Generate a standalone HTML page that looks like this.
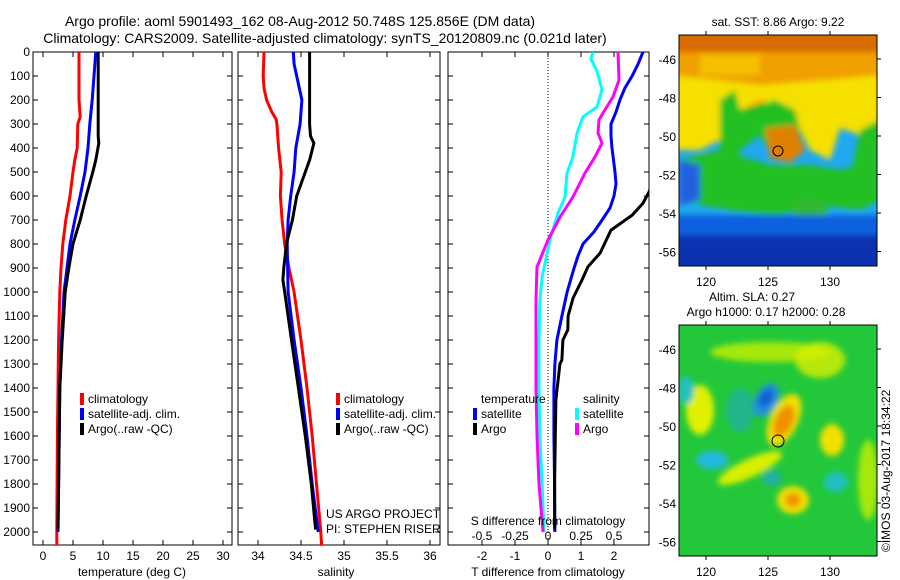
<!DOCTYPE html>
<html><head><meta charset="utf-8">
<style>
html,body{margin:0;padding:0;background:#fff;}
svg{display:block;font-family:"Liberation Sans",sans-serif;}
</style></head>
<body>
<svg id="fig" width="900" height="580" viewBox="0 0 900 580">
<defs>
<clipPath id="c1"><rect x="33" y="52" width="199" height="493"/></clipPath>
<clipPath id="c2"><rect x="238" y="52" width="202" height="493"/></clipPath>
<clipPath id="c3"><rect x="448" y="52" width="201" height="493"/></clipPath>
<clipPath id="m1"><rect x="679" y="35" width="198" height="231"/></clipPath>
<clipPath id="m2"><rect x="679" y="325" width="198" height="231"/></clipPath>
<filter id="bl" x="-50%" y="-50%" width="200%" height="200%"><feGaussianBlur stdDeviation="3"/></filter>
<filter id="bl2" x="-50%" y="-50%" width="200%" height="200%"><feGaussianBlur stdDeviation="3"/></filter>
</defs>
<text x="300" y="26" font-size="14" text-anchor="middle">Argo profile: aoml 5901493_162 08-Aug-2012 50.748S 125.856E (DM data)</text>
<text x="325" y="43" font-size="14" text-anchor="middle">Climatology: CARS2009. Satellite-adjusted climatology: synTS_20120809.nc (0.021d later)</text>

<g id="p1"></g>
<g id="p2"></g>
<g id="p3"></g>

<!-- SST map -->
<g>
<text x="778" y="26" font-size="12" text-anchor="middle">sat. SST: 8.86  Argo: 9.22</text>
<g clip-path="url(#m1)">
<rect x="679" y="35" width="198" height="231" fill="#20a8f0"/>
<rect x="679" y="35" width="198" height="80" fill="#f0a000"/>
<g filter="url(#bl)">
<rect x="670" y="30" width="220" height="22" fill="#d86a00"/>
<rect x="700" y="55" width="60" height="20" fill="#f5c000"/>
<path d="M670,75 L720,80 L760,85 L880,75 L880,120 L860,135 L840,128 L830,160 L810,150 L790,110 L760,100 L740,110 L720,140 L700,150 L670,150 Z" fill="#f5e000"/>
<path d="M720,100 L735,90 L740,110 L760,105 L775,100 L795,110 L800,130 L790,140 L770,150 L760,135 L740,150 L735,170 L720,175 Z" fill="#20c020"/>
<path d="M679,160 L720,150 L770,165 L810,165 L840,170 L860,165 L880,150 L880,200 L860,210 L820,205 L780,215 L740,212 L700,205 L679,195 Z" fill="#20c020"/>
<path d="M860,130 L880,120 L880,200 L860,200 L850,180 Z" fill="#20c020"/>
<path d="M765,128 L795,125 L805,150 L790,162 L770,158 Z" fill="#e08000"/>
<path d="M679,160 L700,165 L700,200 L679,205 Z" fill="#2060e0"/>
<ellipse cx="810" cy="210" rx="18" ry="12" fill="#30b830"/>
<rect x="670" y="232" width="220" height="40" fill="#0830b0"/>
<rect x="670" y="215" width="220" height="20" fill="#1060e0"/>
</g>
</g>
<rect x="679" y="35" width="198" height="231" fill="none" stroke="#000"/>
<circle cx="778" cy="151" r="5" fill="none" stroke="#000"/>
</g>
<g id="ax1"></g>

<!-- SLA map -->
<g>
<text x="752" y="301" font-size="12" text-anchor="middle">Altim. SLA: 0.27</text>
<text x="766" y="316" font-size="12" text-anchor="middle">Argo h1000: 0.17 h2000: 0.28</text>
<g clip-path="url(#m2)">
<rect x="679" y="325" width="198" height="231" fill="#22c83a"/>
<g filter="url(#bl2)">
<ellipse cx="770" cy="352" rx="60" ry="10" fill="#c8f000" opacity="0.8"/>
<ellipse cx="820" cy="360" rx="25" ry="18" fill="#d8f000" opacity="0.8"/>
<ellipse cx="700" cy="410" rx="14" ry="25" fill="#e0f000"/>
<ellipse cx="686" cy="390" rx="8" ry="14" fill="#20c0c0"/>
<ellipse cx="740" cy="410" rx="14" ry="22" fill="#20b0a0" opacity="0.8"/>
<ellipse cx="766" cy="400" rx="11" ry="18" fill="#2090e0" transform="rotate(30 766 400)"/>
<ellipse cx="766" cy="398" rx="6" ry="10" fill="#1060d0" transform="rotate(30 766 398)"/>
<ellipse cx="784" cy="420" rx="14" ry="28" fill="#f0e000" transform="rotate(25 784 420)"/>
<ellipse cx="784" cy="421" rx="9" ry="17" fill="#f09000" transform="rotate(25 784 421)"/>
<ellipse cx="712" cy="460" rx="16" ry="9" fill="#20b8e0"/>
<ellipse cx="750" cy="468" rx="35" ry="9" fill="#d8f000" transform="rotate(-25 750 468)"/>
<ellipse cx="832" cy="440" rx="12" ry="16" fill="#f0e000"/>
<ellipse cx="836" cy="482" rx="12" ry="10" fill="#20c0c0"/>
<ellipse cx="772" cy="478" rx="10" ry="8" fill="#20b0a0"/>
<ellipse cx="793" cy="500" rx="16" ry="14" fill="#f0e000"/>
<ellipse cx="793" cy="500" rx="8" ry="7" fill="#f09000"/>
<ellipse cx="868" cy="480" rx="10" ry="40" fill="#c8f000" opacity="0.8"/>
</g>
</g>
<rect x="679" y="325" width="198" height="231" fill="none" stroke="#000"/>
<circle cx="778" cy="441" r="6" fill="none" stroke="#000"/>
<text transform="translate(890,552) rotate(-90)" font-size="12">©IMOS 03-Aug-2017 18:34:22</text>
</g>
<g id="ax2"></g>
</svg>
<script>
// ---------- data ----------
const depthTicks = [0,100,200,300,400,500,600,700,800,900,1000,1100,1200,1300,1400,1500,1600,1700,1800,1900,2000];
const tempTicks = [0,5,10,15,20,25,30];
const salTicks = [34,34.5,35,35.5,36];
const salTickLabels = ["34","34.5","35","35.5","36"];
const tdiffTicks = [-2,-1,0,1,2];
const sdiffTicks = [-0.5,-0.25,0,0.25,0.5];
const sdiffTickLabels = ["-0.5","-0.25","0","0.25","0.5"];
const lonTicks = [120,125,130];
const latTicks = [-46,-48,-50,-52,-54,-56];

const climDepth = [0,100,200,270,300,400,450,500,600,700,800,900,1000,1200,1400,1600,1800,2000,2055];
const climTemp  = [6.0,6.0,6.0,6.2,5.8,5.7,5.3,5.0,4.5,3.8,3.3,3.0,2.8,2.6,2.5,2.4,2.35,2.3,2.3];
const climSalDepth = [0,100,150,200,250,280,300,400,500,600,700,800,900,1000,1200,1400,1600,1800,2000,2055];
const climSal = [34.07,34.06,34.07,34.10,34.16,34.21,34.22,34.24,34.27,34.26,34.28,34.31,34.36,34.42,34.50,34.57,34.63,34.68,34.73,34.74];

const satDepth = [0,100,200,300,400,500,600,700,800,900,1000,1200,1400,1600,1800,2000];
const satTemp  = [8.8,8.5,8.2,7.8,7.5,7.0,6.2,5.3,4.5,4.0,3.5,3.1,2.8,2.7,2.6,2.5];
const satSalDepth = [0,50,100,200,300,400,500,600,700,800,1000,1200,1400,1600,1800,2000];
const satSal = [34.41,34.42,34.45,34.51,34.49,34.44,34.42,34.38,34.35,34.34,34.35,34.42,34.50,34.57,34.63,34.70];

const argoDepth = [0,100,200,300,350,380,450,500,600,700,800,900,950,1000,1200,1400,1600,1800,1990];
const argoTemp  = [9.2,9.2,9.2,9.2,9.2,9.3,8.8,8.3,7.2,6.2,5.0,4.3,4.0,3.7,3.2,2.8,2.7,2.6,2.5];
const argoSal   = [34.60,34.60,34.60,34.60,34.61,34.65,34.60,34.55,34.45,34.40,34.33,34.30,34.29,34.31,34.39,34.47,34.55,34.62,34.67];

const dTdepthSat = [0,50,100,150,200,250,300,350,400,500,550,600,650,700,750,800,850,900,1000,1100,1200,1300,1400,1600,1800,2000];
const dTsat = [2.88,2.73,2.55,2.33,2.18,2.06,1.91,1.91,1.94,2.03,2.06,2.0,1.88,1.64,1.39,1.06,0.91,0.79,0.58,0.42,0.27,0.21,0.18,0.18,0.2,0.21];
const dTdepthArgo = [0,300,500,583,630,680,742,838,895,950,1025,1100,1158,1200,1283,1300,1450,1600,1800,1990];
const dTargo = [3.2,3.3,3.3,3.06,2.88,2.55,1.91,1.58,1.21,1.03,0.76,0.61,0.6,0.45,0.42,0.36,0.24,0.22,0.2,0.2];

const dSdepthSat = [0,30,80,158,229,270,338,437,504,604,671,783,937,1033,1200,1400,1600,1800,2000];
const dSsat = [0.34,0.326,0.371,0.409,0.371,0.265,0.22,0.189,0.144,0.129,0.076,0.015,-0.045,-0.061,-0.068,-0.068,-0.061,-0.045,-0.03];
const dSdepthArgo = [0,117,188,254,283,338,379,437,504,604,688,783,896,1033,1200,1400,1600,1800,2000];
const dSargo = [0.53,0.538,0.492,0.417,0.386,0.379,0.409,0.356,0.28,0.189,0.091,0.0,-0.083,-0.091,-0.091,-0.091,-0.083,-0.068,-0.038];

// ---------- scales ----------
const yD = d => 52 + d*0.24;
const xT = t => 43 + t*6;
const xS = s => 258 + (s-34)*86;
const xdT = t => 548 + t*33;
const xdS = s => 548 + s*132;
const lonX = l => 706 + (l-120)*12.4;
const latY1 = l => 59 + (-46-l)*19.25;
const latY2 = l => 349 + (-46-l)*19.25;

const NS = "http://www.w3.org/2000/svg";
function mk(tag, attrs, parent){const e=document.createElementNS(NS,tag);for(const k in attrs)e.setAttribute(k,attrs[k]);parent.appendChild(e);return e;}

function box(g,x0,x1){
  const r = mk('rect',{x:x0,y:52,width:x1-x0,height:493,fill:'none',stroke:'#000','stroke-width':1},g);
  
  
}
function yTicks(g,x0,x1,labels){
  depthTicks.forEach(d=>{
    const y=yD(d);
    mk('line',{x1:x0,y1:y,x2:x0+5,y2:y,stroke:'#000'},g);
    mk('line',{x1:x1-5,y1:y,x2:x1,y2:y,stroke:'#000'},g);
    if(labels){const t=mk('text',{x:x0-3,y:y+4,'font-size':12,'text-anchor':'end'},g);t.textContent=d;
      
      }
  });
}
function xTicks(g,vals,labels,fx,ly,bottomOnly){
  vals.forEach((v,i)=>{
    const x=fx(v);
    mk('line',{x1:x,y1:545,x2:x,y2:540,stroke:'#000'},g);
    if(!bottomOnly) mk('line',{x1:x,y1:52,x2:x,y2:57,stroke:'#000'},g);
    if(labels){const t=mk('text',{x:x,y:ly,'font-size':12,'text-anchor':'middle'},g);t.textContent=labels[i];
      
      }
  });
}
function line(g,xs,ds,fx,color,clip,name){
  const pts=xs.map((v,i)=>fx(v).toFixed(1)+','+yD(ds[i]).toFixed(1)).join(' ');
  const p=mk('polyline',{points:pts,fill:'none',stroke:color,'stroke-width':3,'clip-path':'url(#'+clip+')'},g);
  
  
}
function txt(g,x,y,s,name,anchor){const t=mk('text',{x:x,y:y,'font-size':12,'text-anchor':anchor||'start'},g);t.textContent=s;
  
  return t;}
function legend(g,x,y,items){
  items.forEach((it,i)=>{
    const r=mk('rect',{x:x,y:y+i*15-10,width:4,height:12,fill:it[1]},g);
    
    
    txt(g,x+8,y+i*15,it[0],'legend-entry');
  });
}

// Panel 1
const p1=document.getElementById('p1');
box(p1,33,232); yTicks(p1,33,232,true); xTicks(p1,tempTicks,tempTicks.map(String),xT,560);
line(p1,climTemp,climDepth,xT,'#ff0000','c1','temp-climatology-line');
line(p1,satTemp,satDepth,xT,'#0000ff','c1','temp-satellite-line');
line(p1,argoTemp,argoDepth,xT,'#000000','c1','temp-argo-line');
legend(p1,80,403,[['climatology','#ff0000'],['satellite-adj. clim.','#0000ff'],['Argo(..raw -QC)','#000']]);
txt(p1,132,576,'temperature (deg C)','x-axis-title','middle');

// Panel 2
const p2=document.getElementById('p2');
box(p2,238,440); yTicks(p2,238,440,false); xTicks(p2,salTicks,salTickLabels,xS,560);
line(p2,climSal,climSalDepth,xS,'#ff0000','c2','sal-climatology-line');
line(p2,satSal,satSalDepth,xS,'#0000ff','c2','sal-satellite-line');
line(p2,argoSal,argoDepth,xS,'#000000','c2','sal-argo-line');
legend(p2,336,403,[['climatology','#ff0000'],['satellite-adj. clim.','#0000ff'],['Argo(..raw -QC)','#000']]);
txt(p2,326,518,'US ARGO PROJECT','project-credit');
txt(p2,326,533,'PI: STEPHEN RISER','pi-credit');
txt(p2,336,576,'salinity','x-axis-title','middle');

// Panel 3
const p3=document.getElementById('p3');
box(p3,448,649); yTicks(p3,448,649,false); xTicks(p3,tdiffTicks,tdiffTicks.map(String),xdT,560);
const zl=mk('line',{x1:xdT(0),y1:52,x2:xdT(0),y2:545,stroke:'#000','stroke-dasharray':'1,2'},p3);


line(p3,dSsat,dSdepthSat,xdS,'#00ffff','c3','sdiff-satellite-line');
line(p3,dSargo,dSdepthArgo,xdS,'#ff00ff','c3','sdiff-argo-line');
line(p3,dTsat,dTdepthSat,xdT,'#0000ff','c3','tdiff-satellite-line');
line(p3,dTargo,dTdepthArgo,xdT,'#000000','c3','tdiff-argo-line');
txt(p3,481,403,'temperature','legend-title-temperature');
txt(p3,583,403,'salinity','legend-title-salinity');
legend(p3,473,418,[['satellite','#0000ff'],['Argo','#000']]);
legend(p3,575,418,[['satellite','#00ffff'],['Argo','#ff00ff']]);
txt(p3,548,525,'S difference from climatology','s-axis-title','middle');
sdiffTicks.forEach((v,i)=>txt(p3,xdS(v),540,sdiffTickLabels[i],'s-tick-label','middle'));
txt(p3,548,576,'T difference from climatology','x-axis-title','middle');

// Map axes
function mapAxes(g,y0,y1,fy){
  lonTicks.forEach(l=>{const x=lonX(l);
    mk('line',{x1:x,y1:y0,x2:x,y2:y0-4,stroke:'#000'},g);
    mk('line',{x1:x,y1:y1,x2:x,y2:y1+4,stroke:'#000'},g);
    txt(g,x,y1+20,String(l),'lon-tick-label','middle');});
  latTicks.forEach(l=>{const y=fy(l);
    mk('line',{x1:877,y1:y,x2:881,y2:y,stroke:'#000'},g);
    txt(g,676,y+5,String(l),'lat-tick-label','end');});
}
mapAxes(document.getElementById('ax1'),35,266,latY1);
mapAxes(document.getElementById('ax2'),325,556,latY2);
</script>
</body></html>
